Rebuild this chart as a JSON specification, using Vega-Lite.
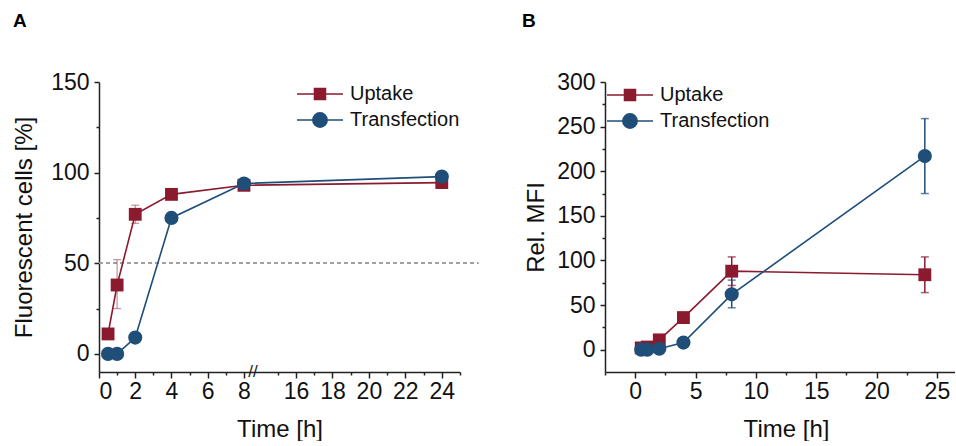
{
  "$schema": "https://vega.github.io/schema/vega-lite/v6.json",
  "padding": {"left": 12, "top": 12, "right": 0, "bottom": 0},
  "config": {
    "font": "Liberation Sans",
    "view": {"stroke": null},
    "concat": {"spacing": 43},
    "axis": {
      "grid": false,
      "domainColor": "#222",
      "domainWidth": 1.5,
      "tickColor": "#222",
      "tickWidth": 1.5,
      "labelFont": "Liberation Sans",
      "labelFontSize": 23,
      "labelColor": "#111",
      "titleFont": "Liberation Sans",
      "titleFontSize": 24,
      "titleFontWeight": "normal",
      "titleColor": "#111"
    },
    "legend": {"labelFont": "Liberation Sans", "labelFontSize": 20, "labelColor": "#111"}
  },
  "resolve": {
    "scale": {"fill": "independent", "stroke": "independent", "shape": "independent", "color": "independent"},
    "legend": {"fill": "independent", "stroke": "independent", "shape": "independent"}
  },
  "datasets": {
    "A": [
      {"t": 0.5, "series": "Uptake", "v": 11},
      {"t": 1, "series": "Uptake", "v": 38, "lo": 25, "hi": 52},
      {"t": 2, "series": "Uptake", "v": 77, "lo": 72, "hi": 82},
      {"t": 4, "series": "Uptake", "v": 88},
      {"t": 8, "series": "Uptake", "v": 93},
      {"t": 24, "series": "Uptake", "v": 94.5},
      {"t": 0.5, "series": "Transfection", "v": 0},
      {"t": 1, "series": "Transfection", "v": 0},
      {"t": 2, "series": "Transfection", "v": 9},
      {"t": 4, "series": "Transfection", "v": 75, "lo": 72, "hi": 78},
      {"t": 8, "series": "Transfection", "v": 94},
      {"t": 24, "series": "Transfection", "v": 97.8}
    ],
    "B": [
      {"t": 0.5, "series": "Uptake", "v": 2},
      {"t": 1, "series": "Uptake", "v": 3},
      {"t": 2, "series": "Uptake", "v": 11},
      {"t": 4, "series": "Uptake", "v": 36, "lo": 32, "hi": 40},
      {"t": 8, "series": "Uptake", "v": 88, "lo": 72, "hi": 104},
      {"t": 24, "series": "Uptake", "v": 84, "lo": 64, "hi": 104},
      {"t": 0.5, "series": "Transfection", "v": 0},
      {"t": 1, "series": "Transfection", "v": 0},
      {"t": 2, "series": "Transfection", "v": 1},
      {"t": 4, "series": "Transfection", "v": 8},
      {"t": 8, "series": "Transfection", "v": 62, "lo": 47, "hi": 78},
      {"t": 24, "series": "Transfection", "v": 217, "lo": 175, "hi": 259}
    ]
  },
  "hconcat": [
    {
      "width": 361,
      "height": 290,
      "title": {"text": "A", "anchor": "start", "frame": "group", "dx": -86, "fontSize": 19, "fontWeight": "bold", "font": "Liberation Sans", "color": "#000", "offset": 40},
      "data": {"name": "A"},
      "resolve": {"axis": {"x": "independent", "y": "independent"}},
      "layer": [
        {
          "mark": {"type": "rule", "strokeDash": [4, 3], "color": "#a0a0a0", "strokeWidth": 1.2, "clip": false},
          "encoding": {
            "x": {"datum": 0, "type": "quantitative", "scale": {"domain": [0, 8.5, 13.64, 25], "range": [0, 154, 154, 361], "nice": false, "zero": false}, "axis": null},
            "x2": {"datum": 26},
            "y": {"datum": 50, "type": "quantitative", "scale": {"domain": [-10, 150], "nice": false, "zero": false}, "axis": null}
          }
        },
        {
          "transform": [{"filter": "isValid(datum.lo)"}],
          "mark": {"type": "rule", "strokeWidth": 1.3, "opacity": 0.45},
          "encoding": {
            "x": {"field": "t", "type": "quantitative", "scale": {"domain": [0, 8.5, 13.64, 25], "range": [0, 154, 154, 361], "nice": false, "zero": false}, "axis": null},
            "y": {"field": "lo", "type": "quantitative", "scale": {"domain": [-10, 150], "nice": false, "zero": false}, "axis": null},
            "y2": {"field": "hi"},
            "color": {"field": "series", "type": "nominal", "scale": {"range": ["#1f4e79", "#8b1a2f"]}, "legend": null}
          }
        },
        {
          "transform": [{"filter": "isValid(datum.lo)"}],
          "mark": {"type": "tick", "orient": "horizontal", "size": 8, "thickness": 1.3, "opacity": 0.45},
          "encoding": {
            "x": {"field": "t", "type": "quantitative", "scale": {"domain": [0, 8.5, 13.64, 25], "range": [0, 154, 154, 361], "nice": false, "zero": false}, "axis": null},
            "y": {"field": "lo", "type": "quantitative", "scale": {"domain": [-10, 150], "nice": false, "zero": false}, "axis": null},
            "color": {"field": "series", "type": "nominal", "legend": null}
          }
        },
        {
          "transform": [{"filter": "isValid(datum.hi)"}],
          "mark": {"type": "tick", "orient": "horizontal", "size": 8, "thickness": 1.3, "opacity": 0.45},
          "encoding": {
            "x": {"field": "t", "type": "quantitative", "scale": {"domain": [0, 8.5, 13.64, 25], "range": [0, 154, 154, 361], "nice": false, "zero": false}, "axis": null},
            "y": {"field": "hi", "type": "quantitative", "scale": {"domain": [-10, 150], "nice": false, "zero": false}, "axis": null},
            "color": {"field": "series", "type": "nominal", "legend": null}
          }
        },
        {
          "mark": {"type": "line", "strokeWidth": 1.6},
          "encoding": {
            "x": {"field": "t", "type": "quantitative", "scale": {"domain": [0, 8.5, 13.64, 25], "range": [0, 154, 154, 361], "nice": false, "zero": false},
                  "axis": {"orient": "bottom", "values": [0, 2, 4, 6, 8, 16, 18, 20, 22, 24], "title": "Time [h]", "tickSize": 6, "labelPadding": 2, "titlePadding": 14}},
            "y": {"field": "v", "type": "quantitative", "scale": {"domain": [-10, 150], "nice": false, "zero": false},
                  "axis": {"orient": "left", "values": [0, 50, 100, 150], "title": "Fluorescent cells [%]", "tickSize": 5, "labelPadding": 5, "titlePadding": 14}},
            "color": {"field": "series", "type": "nominal", "legend": null},
            "detail": {"field": "series"}
          }
        },
        {
          "transform": [{"filter": "datum.series == 'Uptake'"}],
          "mark": {"type": "square", "size": 165, "opacity": 1},
          "encoding": {
            "x": {"field": "t", "type": "quantitative", "scale": {"domain": [0, 8.5, 13.64, 25], "range": [0, 154, 154, 361], "nice": false, "zero": false}, "axis": null},
            "y": {"field": "v", "type": "quantitative", "scale": {"domain": [-10, 150], "nice": false, "zero": false}, "axis": null},
            "color": {"field": "series", "type": "nominal", "legend": null}
          }
        },
        {
          "transform": [{"filter": "datum.series == 'Transfection'"}],
          "mark": {"type": "circle", "size": 200, "opacity": 1},
          "encoding": {
            "x": {"field": "t", "type": "quantitative", "scale": {"domain": [0, 8.5, 13.64, 25], "range": [0, 154, 154, 361], "nice": false, "zero": false},
                  "axis": {"orient": "bottom", "values": [1, 3, 5, 7, 15, 17, 19, 21, 23, 25], "labels": false, "title": null, "tickSize": 3, "domain": false}},
            "y": {"field": "v", "type": "quantitative", "scale": {"domain": [-10, 150], "nice": false, "zero": false},
                  "axis": {"orient": "left", "values": [25, 75, 125], "labels": false, "title": null, "tickSize": 3, "domain": false}},
            "color": {"field": "series", "type": "nominal", "legend": null}
          }
        },
        {
          "mark": {"type": "point", "filled": true, "strokeWidth": 1.5, "opacity": 1, "size": 0},
          "encoding": {
            "x": {"field": "t", "type": "quantitative", "axis": null},
            "y": {"field": "v", "type": "quantitative", "axis": null},
            "fill": {"field": "series", "type": "nominal", "scale": {"domain": ["Uptake", "Transfection"], "range": ["#8b1a2f", "#1f4e79"]},
                     "legend": {"title": null, "orient": "none", "legendX": 211, "legendY": 2, "symbolSize": 144, "symbolStrokeWidth": 1.5, "labelOffset": 20, "rowPadding": 5, "padding": 0}},
            "stroke": {"field": "series", "type": "nominal", "scale": {"domain": ["Uptake", "Transfection"], "range": ["#8b1a2f", "#1f4e79"]},
                     "legend": {"title": null, "orient": "none", "legendX": 211, "legendY": 2, "symbolSize": 144, "symbolStrokeWidth": 1.5, "labelOffset": 20, "rowPadding": 5, "padding": 0}},
            "shape": {"field": "series", "type": "nominal", "scale": {"domain": ["Uptake", "Transfection"], "range": ["M-3.83,0H3.83M-0.92,-0.92H0.92V0.92H-0.92Z", "M-3.83,0H3.83M1.2,0A1.2,1.2,0,1,1,-1.2,0A1.2,1.2,0,1,1,1.2,0Z"]},
                     "legend": {"title": null, "orient": "none", "legendX": 211, "legendY": 2, "symbolSize": 144, "symbolStrokeWidth": 1.5, "labelOffset": 20, "rowPadding": 5, "padding": 0}}
          }
        },
        {
          "transform": [{"filter": "datum.t == 24 && datum.series == 'Uptake'"}],
          "mark": {"type": "text", "text": "//", "fontSize": 17, "color": "#222", "align": "center", "baseline": "middle", "clip": false},
          "encoding": {
            "x": {"datum": 10, "type": "quantitative", "scale": {"domain": [0, 8.5, 13.64, 25], "range": [0, 154, 154, 361], "nice": false, "zero": false}, "axis": null},
            "y": {"datum": -10, "type": "quantitative", "scale": {"domain": [-10, 150], "nice": false, "zero": false}, "axis": null}
          }
        }
      ]
    },
    {
      "width": 350,
      "height": 290,
      "title": {"text": "B", "anchor": "start", "frame": "group", "dx": -83, "fontSize": 19, "fontWeight": "bold", "font": "Liberation Sans", "color": "#000", "offset": 40},
      "data": {"name": "B"},
      "resolve": {"axis": {"x": "independent", "y": "independent"}},
      "layer": [
        {
          "transform": [{"filter": "isValid(datum.lo)"}],
          "mark": {"type": "rule", "strokeWidth": 1.5},
          "encoding": {
            "x": {"field": "t", "type": "quantitative", "scale": {"domain": [-2.5, 26.5], "nice": false, "zero": false}, "axis": null},
            "y": {"field": "lo", "type": "quantitative", "scale": {"domain": [-25, 300], "nice": false, "zero": false}, "axis": null},
            "y2": {"field": "hi"},
            "color": {"field": "series", "type": "nominal", "scale": {"range": ["#1f4e79", "#8b1a2f"]}, "legend": null}
          }
        },
        {
          "transform": [{"filter": "isValid(datum.lo)"}],
          "mark": {"type": "tick", "orient": "horizontal", "size": 8, "thickness": 1.5},
          "encoding": {
            "x": {"field": "t", "type": "quantitative", "scale": {"domain": [-2.5, 26.5], "nice": false, "zero": false}, "axis": null},
            "y": {"field": "lo", "type": "quantitative", "scale": {"domain": [-25, 300], "nice": false, "zero": false}, "axis": null},
            "color": {"field": "series", "type": "nominal", "legend": null}
          }
        },
        {
          "transform": [{"filter": "isValid(datum.hi)"}],
          "mark": {"type": "tick", "orient": "horizontal", "size": 8, "thickness": 1.5},
          "encoding": {
            "x": {"field": "t", "type": "quantitative", "scale": {"domain": [-2.5, 26.5], "nice": false, "zero": false}, "axis": null},
            "y": {"field": "hi", "type": "quantitative", "scale": {"domain": [-25, 300], "nice": false, "zero": false}, "axis": null},
            "color": {"field": "series", "type": "nominal", "legend": null}
          }
        },
        {
          "mark": {"type": "line", "strokeWidth": 1.6},
          "encoding": {
            "x": {"field": "t", "type": "quantitative", "scale": {"domain": [-2.5, 26.5], "nice": false, "zero": false},
                  "axis": {"orient": "bottom", "values": [0, 5, 10, 15, 20, 25], "title": "Time [h]", "tickSize": 6, "labelPadding": 2, "titlePadding": 14, "titleX": 181}},
            "y": {"field": "v", "type": "quantitative", "scale": {"domain": [-25, 300], "nice": false, "zero": false},
                  "axis": {"orient": "left", "values": [0, 50, 100, 150, 200, 250, 300], "title": "Rel. MFI", "tickSize": 5, "labelPadding": 5, "titlePadding": 8}},
            "color": {"field": "series", "type": "nominal", "legend": null},
            "detail": {"field": "series"}
          }
        },
        {
          "transform": [{"filter": "datum.series == 'Uptake'"}],
          "mark": {"type": "square", "size": 165, "opacity": 1},
          "encoding": {
            "x": {"field": "t", "type": "quantitative", "scale": {"domain": [-2.5, 26.5], "nice": false, "zero": false}, "axis": null},
            "y": {"field": "v", "type": "quantitative", "scale": {"domain": [-25, 300], "nice": false, "zero": false}, "axis": null},
            "color": {"field": "series", "type": "nominal", "legend": null}
          }
        },
        {
          "transform": [{"filter": "datum.series == 'Transfection'"}],
          "mark": {"type": "circle", "size": 200, "opacity": 1},
          "encoding": {
            "x": {"field": "t", "type": "quantitative", "scale": {"domain": [-2.5, 26.5], "nice": false, "zero": false},
                  "axis": {"orient": "bottom", "values": [-2.5, 2.5, 7.5, 12.5, 17.5, 22.5], "labels": false, "title": null, "tickSize": 3, "domain": false}},
            "y": {"field": "v", "type": "quantitative", "scale": {"domain": [-25, 300], "nice": false, "zero": false},
                  "axis": {"orient": "left", "values": [25, 75, 125, 175, 225, 275], "labels": false, "title": null, "tickSize": 3, "domain": false}},
            "color": {"field": "series", "type": "nominal", "legend": null}
          }
        },
        {
          "mark": {"type": "point", "filled": true, "strokeWidth": 1.5, "opacity": 1, "size": 0},
          "encoding": {
            "x": {"field": "t", "type": "quantitative", "axis": null},
            "y": {"field": "v", "type": "quantitative", "axis": null},
            "fill": {"field": "series", "type": "nominal", "scale": {"domain": ["Uptake", "Transfection"], "range": ["#8b1a2f", "#1f4e79"]},
                     "legend": {"title": null, "orient": "none", "legendX": 15, "legendY": 3, "symbolSize": 144, "symbolStrokeWidth": 1.5, "labelOffset": 20, "rowPadding": 5, "padding": 0}},
            "stroke": {"field": "series", "type": "nominal", "scale": {"domain": ["Uptake", "Transfection"], "range": ["#8b1a2f", "#1f4e79"]},
                     "legend": {"title": null, "orient": "none", "legendX": 15, "legendY": 3, "symbolSize": 144, "symbolStrokeWidth": 1.5, "labelOffset": 20, "rowPadding": 5, "padding": 0}},
            "shape": {"field": "series", "type": "nominal", "scale": {"domain": ["Uptake", "Transfection"], "range": ["M-3.83,0H3.83M-0.92,-0.92H0.92V0.92H-0.92Z", "M-3.83,0H3.83M1.2,0A1.2,1.2,0,1,1,-1.2,0A1.2,1.2,0,1,1,1.2,0Z"]},
                     "legend": {"title": null, "orient": "none", "legendX": 15, "legendY": 3, "symbolSize": 144, "symbolStrokeWidth": 1.5, "labelOffset": 20, "rowPadding": 5, "padding": 0}}
          }
        }
      ]
    }
  ]
}
